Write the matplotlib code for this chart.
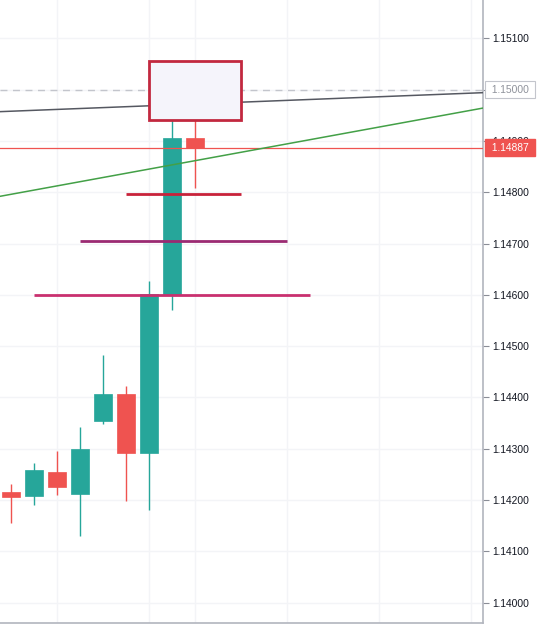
#!/usr/bin/env python3

import matplotlib
matplotlib.use('Agg')
import matplotlib.pyplot as plt
import matplotlib.transforms as mtransforms
from matplotlib.patches import Rectangle
import numpy as np

plt.rcParams['font.family'] = ['Liberation Sans', 'DejaVu Sans']

# Candle data (index, OHLC)
opens  = [1.14216, 1.14208, 1.14254, 1.14212, 1.14354, 1.14407, 1.14291, 1.14600, 1.14905]
highs  = [1.14231, 1.14273, 1.14296, 1.14343, 1.14483, 1.14423, 1.14627, 1.14941, 1.14941]
lows   = [1.14156, 1.14191, 1.14209, 1.14130, 1.14348, 1.14199, 1.14181, 1.14571, 1.14809]
closes = [1.14207, 1.14259, 1.14226, 1.14299, 1.14407, 1.14291, 1.14602, 1.14905, 1.14887]

# Horizontal segments: level, start index, end index
seg_levels = [1.14796, 1.14704, 1.14600]
seg_start = [5, 3, 1]
seg_end = [10, 12, 13]
seg_colors = ['#c8223a', '#9b2a72', '#c9306f']

# Trend lines: (x0, y0, x1, y1) in index / price
trend_gray = [-0.48, 1.14957, 20.52, 1.14994]
trend_green = [-0.48, 1.14792, 20.52, 1.14964]

# Box zone
box_x = [6, 10]
box_y = [1.14941, 1.15055]

last_price = 1.14887
dash_level = 1.15000
yticks = [1.140, 1.141, 1.142, 1.143, 1.144, 1.145, 1.146, 1.147, 1.148, 1.149, 1.150, 1.151]
vgrid = [2, 6, 8, 12, 16, 20]

up_col = '#26a69a'
dn_col = '#ef5350'

fig = plt.figure(figsize=(5.38, 6.25), dpi=100)
ax = fig.add_axes([0, 0.0027, 483/538, 0.9973])

ax.set_xlim(-0.478, 20.52)
ax.set_ylim(1.139599, 1.151746)

# grid
for v in yticks:
    ax.axhline(v, color='#f3f4f7', lw=1, zorder=0)
for v in vgrid:
    ax.axvline(v, color='#f3f4f7', lw=1, zorder=0)

# candles
w = 0.78
for i in range(len(opens)):
    o, h, l, c = opens[i], highs[i], lows[i], closes[i]
    col = up_col if c >= o else dn_col
    ax.plot([i, i], [l, h], color=col, lw=1, zorder=2, solid_capstyle='butt')
    ax.add_patch(Rectangle((i - w/2, min(o, c)), w, abs(c - o), fc=col, ec=col, lw=0.5, zorder=3))

# dashed 1.15 line and last price line
ax.axhline(dash_level, color='#c3c5cc', lw=1, ls=(0, (5, 4)), zorder=1)
ax.axhline(last_price, color=dn_col, lw=0.9, zorder=4)

# trend lines
ax.plot(trend_gray[0::2], trend_gray[1::2], color='#555861', lw=1.1, zorder=5)
ax.plot(trend_green[0::2], trend_green[1::2], color='#43a047', lw=1.1, zorder=5)

# horizontal segments
for lev, s, e, cl in zip(seg_levels, seg_start, seg_end, seg_colors):
    ax.plot([s, e], [lev, lev], color=cl, lw=2, zorder=6, solid_capstyle='butt')

# rectangle zone
ax.add_patch(Rectangle((box_x[0], box_y[0]), box_x[1] - box_x[0], box_y[1] - box_y[0],
                       fc='#f5f4fb', ec='#c2283f', lw=2, zorder=7))

# axis styling
for s in ['top', 'left']:
    ax.spines[s].set_visible(False)
for s in ['right', 'bottom']:
    ax.spines[s].set_color('#b2b5be')
    ax.spines[s].set_linewidth(1.2)
ax.set_xticks([])
ax.yaxis.tick_right()
ax.set_yticks(yticks)
ax.set_yticklabels(['%.5f' % v for v in yticks])
ax.tick_params(axis='y', length=4, width=0.8, color='#8a8d96', pad=3,
               labelsize=7.4, labelcolor='#131722')

trans = mtransforms.blended_transform_factory(ax.transAxes, ax.transData)
ax.text(1.012, last_price, ' ' + '%.5f' % last_price + ' ', transform=trans, va='center', ha='left',
        color='white', fontsize=7.4, clip_on=False, zorder=20,
        bbox=dict(boxstyle='square,pad=0.38', fc=dn_col, ec=dn_col))
ax.text(1.012, dash_level, ' ' + '%.5f' % dash_level + ' ', transform=trans, va='center', ha='left',
        color='#8f929b', fontsize=7.4, clip_on=False, zorder=20,
        bbox=dict(boxstyle='square,pad=0.38', fc='white', ec='#c3c5cc', lw=0.8))

fig.savefig('out.png', dpi=100)
